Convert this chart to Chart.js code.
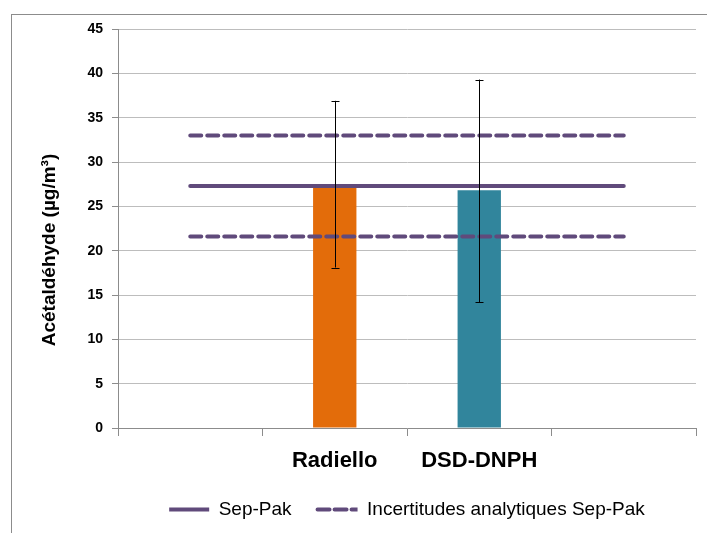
<!DOCTYPE html>
<html>
<head>
<meta charset="utf-8">
<script src="https://cdn.jsdelivr.net/npm/chart.js@4"></script>
<style>
  html, body { margin: 0; padding: 0; background: #fff; overflow: hidden; }
  #frame {
    position: absolute; left: 11px; top: 14px; width: 700px; height: 530px;
    border: 1px solid #8c8c8c; box-sizing: border-box;
  }
  #chart { position: absolute; left: 0; top: 0; }
</style>
</head>
<body>
<div id="frame"></div>
<canvas id="chart" width="707" height="533"></canvas>
<script>
// Acetaldehyde comparison data
const categories = ['', 'Radiello', 'DSD-DNPH', ''];
const barValues = [null, 27.2, 26.8, null];
const errLow = [null, 18.1, 14.2, null];
const errHigh = [null, 36.9, 39.3, null];
const sepPak = [27.3, 27.3, 27.3, 27.3];
const upperLimit = [33.0, 33.0, 33.0, 33.0];
const lowerLimit = [21.6, 21.6, 21.6, 21.6];
const yTicks = [0, 5, 10, 15, 20, 25, 30, 35, 40, 45];

const purple = '#604a7b';
const fontFamily = "'Liberation Sans', Arial, sans-serif";

// error bars on top of the bars
const errorBars = {
    id: 'errorBars',
    afterDatasetsDraw(chart) {
        const ctx = chart.ctx;
        const y = chart.scales.y;
        const meta = chart.getDatasetMeta(0);
        ctx.save();
        ctx.strokeStyle = '#000';
        ctx.lineWidth = 1;
        meta.data.forEach((bar, i) => {
            if (errLow[i] == null) return;
            const x = Math.round(bar.x) + 0.5;
            const yl = y.getPixelForValue(errLow[i]);
            const yh = y.getPixelForValue(errHigh[i]);
            ctx.beginPath();
            ctx.moveTo(x, yh); ctx.lineTo(x, yl);
            ctx.moveTo(x - 4, Math.round(yh) + 0.5); ctx.lineTo(x + 4, Math.round(yh) + 0.5);
            ctx.moveTo(x - 4, Math.round(yl) + 0.5); ctx.lineTo(x + 4, Math.round(yl) + 0.5);
            ctx.stroke();
        });
        ctx.restore();
    }
};

// y axis title
const yTitle = {
    id: 'yTitle',
    afterDraw(chart) {
        const ctx = chart.ctx;
        ctx.save();
        ctx.translate(50, 250);
        ctx.rotate(-Math.PI / 2);
        ctx.font = 'bold 19px ' + fontFamily;
        ctx.fillStyle = '#000';
        ctx.textAlign = 'center';
        ctx.textBaseline = 'middle';
        ctx.fillText('Acétaldéhyde (µg/m³)', 0, 0);
        ctx.restore();
    }
};

new Chart(document.getElementById('chart'), {
    data: {
        labels: categories,
        datasets: [
            {
                type: 'bar',
                label: 'bars',
                data: barValues,
                backgroundColor: ['#fff', '#e36c0a', '#31859c', '#fff'],
                barPercentage: 0.3,
                categoryPercentage: 1,
                order: 2
            },
            {
                type: 'line',
                label: 'Sep-Pak',
                data: sepPak,
                borderColor: purple,
                backgroundColor: purple,
                borderWidth: 4,
                borderCapStyle: 'round',
                pointRadius: 0,
                order: 1
            },
            {
                type: 'line',
                label: 'Incertitudes analytiques Sep-Pak',
                data: upperLimit,
                borderColor: purple,
                backgroundColor: purple,
                borderWidth: 4,
                borderDash: [11, 6],
                borderCapStyle: 'round',
                pointRadius: 0,
                order: 1
            },
            {
                type: 'line',
                label: 'lower',
                data: lowerLimit,
                borderColor: purple,
                backgroundColor: purple,
                borderWidth: 4,
                borderDash: [11, 6],
                borderCapStyle: 'round',
                pointRadius: 0,
                order: 1
            }
        ]
    },
    options: {
        responsive: false,
        animation: false,
        layout: { padding: { left: 0, right: 11, top: 29, bottom: 4 } },
        scales: {
            x: {
                offset: true,
                grid: {
                    offset: true,
                    drawOnChartArea: false,
                    tickLength: 8,
                    color: '#8c8c8c'
                },
                border: { color: '#8c8c8c' },
                ticks: {
                    padding: 12,
                    color: '#000',
                    font: { family: fontFamily, size: 22, weight: 'bold' }
                },
                afterFit: (scale) => { scale.height = 46; }
            },
            y: {
                min: 0,
                max: 45,
                afterBuildTicks: (scale) => { scale.ticks = yTicks.map(v => ({ value: v })); },
                grid: { color: '#bdbdbd', tickLength: 6, tickColor: '#8c8c8c' },
                border: { color: '#8c8c8c' },
                ticks: {
                    padding: 9,
                    color: '#000',
                    font: { family: fontFamily, size: 14, weight: 'bold' }
                },
                afterFit: (scale) => { scale.width = 118; }
            }
        },
        plugins: {
            tooltip: { enabled: false },
            legend: {
                position: 'bottom',
                fullSize: false,
                labels: {
                    boxWidth: 40,
                    boxHeight: 0,
                    padding: 26,
                    color: '#000',
                    font: { family: fontFamily, size: 19 },
                    filter: (item) => item.text === 'Sep-Pak' || item.text.startsWith('Incertitudes')
                }
            }
        }
    },
    plugins: [errorBars, yTitle]
});
</script>
</body>
</html>
